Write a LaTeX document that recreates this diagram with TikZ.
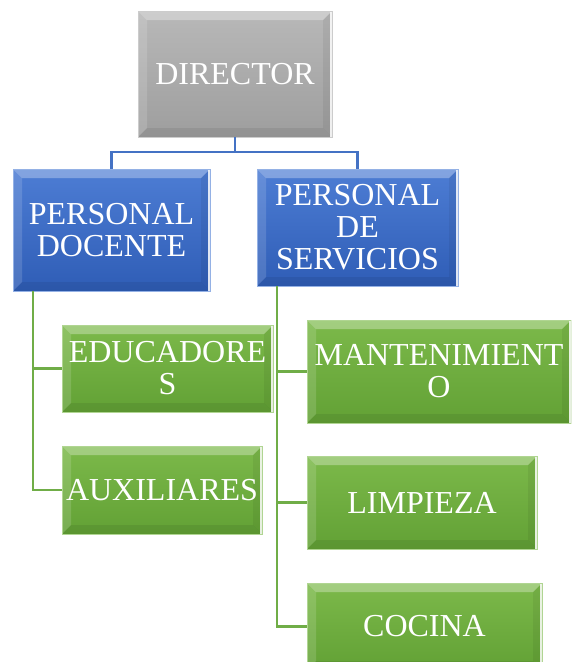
\documentclass[tikz,border=0pt]{standalone}
\usepackage{fontspec}
\setmainfont{Liberation Serif}
\definecolor{gtop}{HTML}{B8B8B8}
\definecolor{gbot}{HTML}{9E9E9E}
\definecolor{btop}{HTML}{4D7DD4}
\definecolor{bbot}{HTML}{2F5DB6}
\definecolor{ntop}{HTML}{7CB94A}
\definecolor{nbot}{HTML}{62A135}
\definecolor{bline}{HTML}{4472C4}
\definecolor{nline}{HTML}{70AD47}
\tikzset{
  bevel/.style={path picture={
    \coordinate (pnw) at (path picture bounding box.north west);
    \coordinate (pne) at (path picture bounding box.north east);
    \coordinate (psw) at (path picture bounding box.south west);
    \coordinate (pse) at (path picture bounding box.south east);
    \fill[white,opacity=0.30] (pnw) -- (pne) -- ([xshift=-9pt,yshift=-9pt]pne) -- ([xshift=9pt,yshift=-9pt]pnw) -- cycle;
    \fill[white,opacity=0.14] (pnw) -- ([xshift=9pt,yshift=-9pt]pnw) -- ([xshift=9pt,yshift=9pt]psw) -- (psw) -- cycle;
    \fill[black,opacity=0.07] (psw) -- (pse) -- ([xshift=-9pt,yshift=9pt]pse) -- ([xshift=9pt,yshift=9pt]psw) -- cycle;
    \fill[black,opacity=0.06] (pne) -- (pse) -- ([xshift=-9pt,yshift=9pt]pse) -- ([xshift=-9pt,yshift=-9pt]pne) -- cycle;
    \draw[white,line width=1.8pt,opacity=0.85] ([xshift=-1pt]pne) -- ([xshift=-1pt]pse);
  }},
  orgbox/.style={bevel, inner sep=0pt, align=center, text=white,
    font=\fontsize{32}{32}\selectfont, line width=0.8pt},
  graybox/.style={orgbox, top color=gtop, bottom color=gbot, draw=gray!40},
  bluebox/.style={orgbox, top color=btop, bottom color=bbot, draw=btop!60},
  greenbox/.style={orgbox, top color=ntop, bottom color=nbot, draw=ntop!60},
  bconn/.style={draw=bline, line width=2.5pt},
  gconn/.style={draw=nline, line width=2.5pt}
}
\begin{document}
\begin{tikzpicture}[x=1pt,y=-1pt]
\useasboundingbox (0,0) rectangle (571,662);
\clip (0,0) rectangle (571,662);
\coordinate (bus) at (235,152);
\coordinate (pdl) at (33,291);
\coordinate (psl) at (277,286);
\node[graybox, minimum width=194pt, minimum height=126pt] (dir) at (235,74) {DIRECTOR};
\node[bluebox, minimum width=197pt, minimum height=122pt] (pd) at (111.5,230) {PERSONAL\\DOCENTE};
\node[bluebox, minimum width=201pt, minimum height=117pt] (ps) at (357.5,227.5) {PERSONAL\\DE\\SERVICIOS};
\node[greenbox, minimum width=211pt, minimum height=87pt] (edu) at (167.5,368.5) {EDUCADORE\\S};
\node[greenbox, minimum width=200pt, minimum height=88pt] (aux) at (162,490) {AUXILIARES};
\node[greenbox, minimum width=264pt, minimum height=103pt] (mant) at (439,371.5) {MANTENIMIENT\\O};
\node[greenbox, minimum width=230pt, minimum height=93pt] (limp) at (422,502.5) {LIMPIEZA};
\node[greenbox, minimum width=235pt, minimum height=87pt] (coc) at (424.5,626.5) {COCINA};
\path[bconn] (dir.south) -- (bus) -| (pd.north);
\path[bconn] (bus) -| (ps.north);
\path[gconn] (pdl) |- (edu.west);
\path[gconn] (pdl) |- (aux.west);
\path[gconn] (psl) |- (mant.west);
\path[gconn] (psl) |- (limp.west);
\path[gconn] (psl) |- (coc.west);
\end{tikzpicture}
\end{document}
